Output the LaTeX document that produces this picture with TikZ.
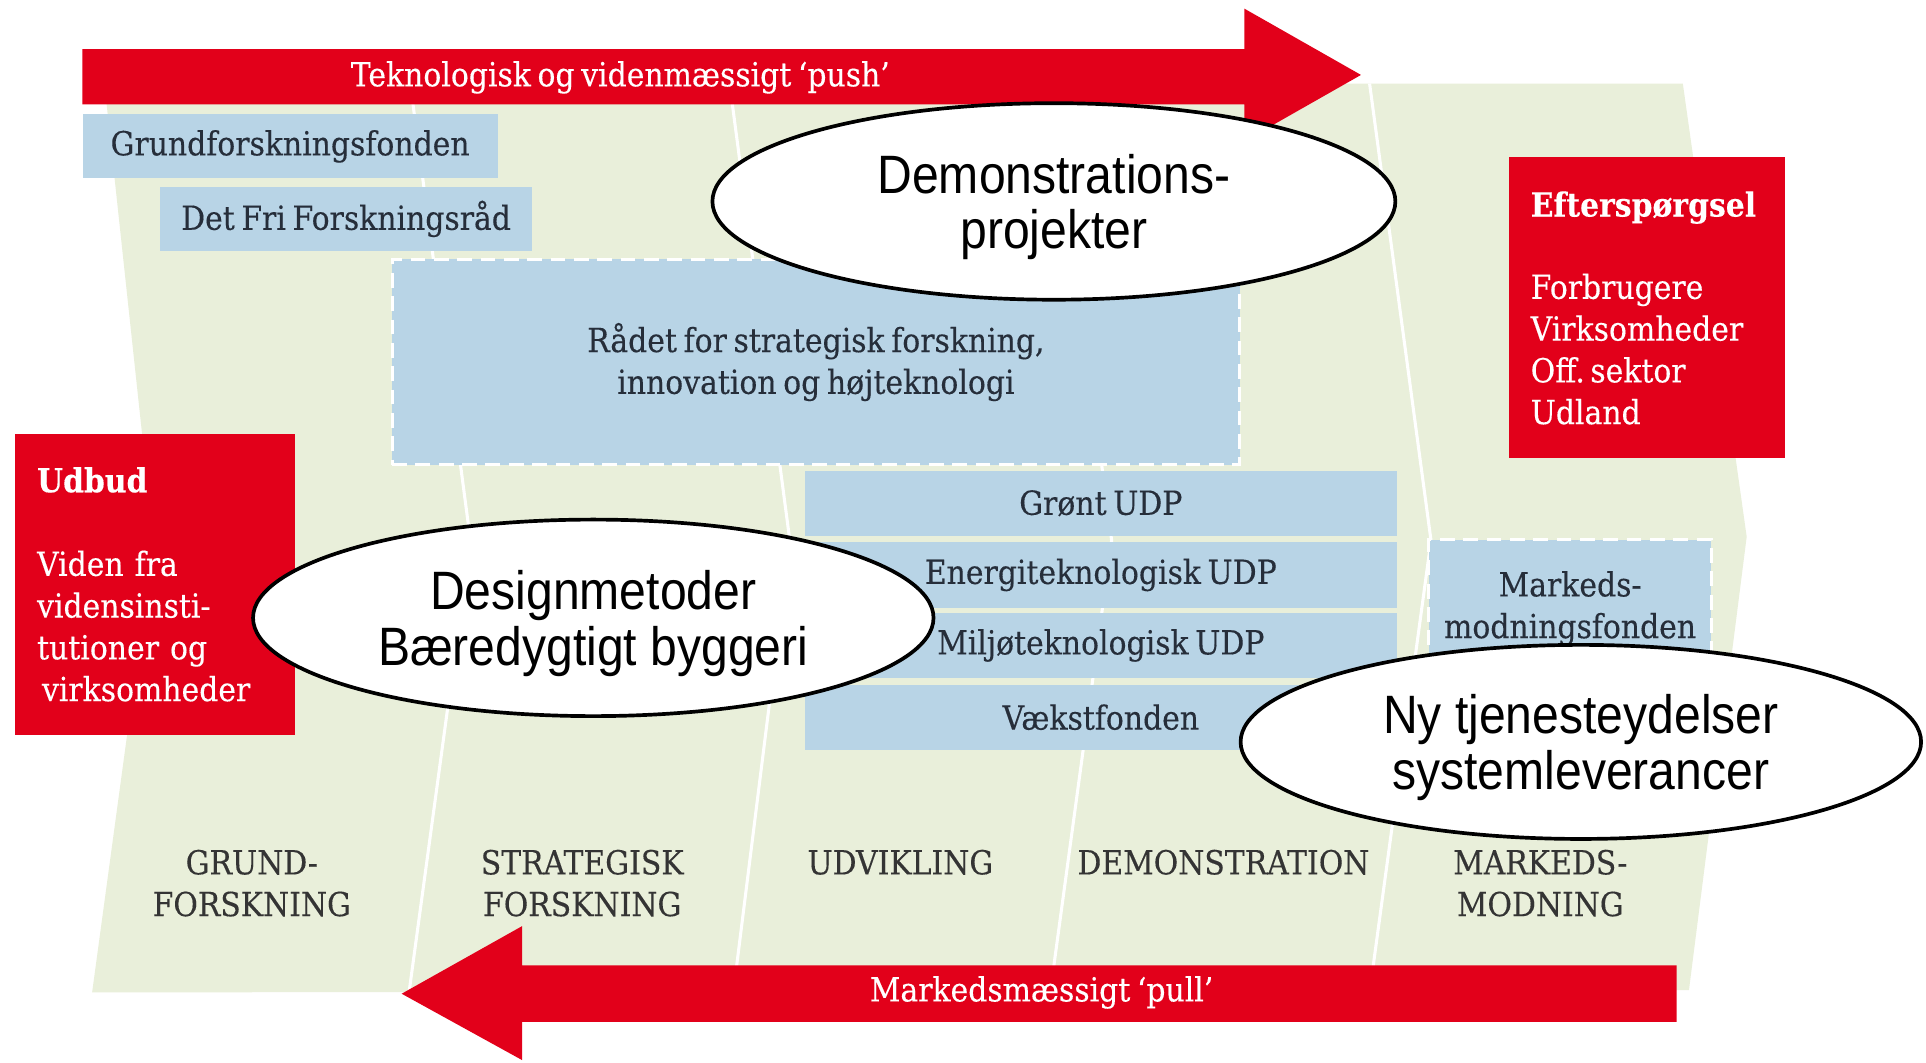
\documentclass[tikz,border=0pt]{standalone}
\usepackage{fontspec}
\usepackage{tikz}
\usetikzlibrary{shapes, positioning}
\newfontfamily\slabfont[FakeStretch=0.9, WordSpace=0.7, FakeBold=0.25]{DejaVu Serif}
\newfontfamily\ovalfont[FakeStretch=0.89]{Liberation Sans}
\definecolor{pushred}{RGB}{226,0,26}
\definecolor{fundblue}{RGB}{184,212,230}
\definecolor{phasegreen}{RGB}{233,239,218}
\definecolor{fundtext}{RGB}{38,46,58}
\definecolor{phasetext}{RGB}{52,52,52}

\begin{document}
\begin{tikzpicture}[x=1pt, y=-1pt,
        fund/.style={fill=fundblue, text=fundtext, inner sep=0pt, font=\slabfont\fontsize{27}{34}\selectfont},
        fundline/.style={draw=white, line width=2.5pt, dash pattern=on 12pt off 7pt},
        redbox/.style={fill=pushred, text=white, anchor=north west, align=left, inner xsep=18pt, font=\slabfont\fontsize{27}{34}\selectfont},
        arrowtext/.style={text=white, font=\slabfont\fontsize{27}{30}\selectfont},
        phase/.style={text=phasetext, align=center, font=\slabfont\fontsize{27}{34}\selectfont},
        oval/.style={ellipse, draw=black, line width=3pt, fill=white, align=center, inner sep=0pt, text depth=-6pt, font=\ovalfont\fontsize{44}{45}\selectfont}]

        \useasboundingbox (0,0) rectangle (1568,865);
        \fill[white] (0,0) rectangle (1568,865);

        % Phase band
        \fill[phasegreen] (85,68) -- (1370,68) -- (1422,437) -- (1375,806) -- (75,808) -- (125,440) -- cycle;
        \foreach \xt/\xm/\xb in {334/383/333, 594/643/597, 856/905/855, 1115/1165/1115}
            \draw[white, line width=2.5pt] (\xt,68) -- (\xm,440) -- (\xb,808);

        % Push arrow
        \fill[pushred] (67,40) -- (1013,40) -- (1013,7) -- (1108,61) -- (1013,115) -- (1013,85) -- (67,85) -- cycle;
        \node[arrowtext] (push) at (505,63) {Teknologisk og videnmæssigt ‘push’};

        % Pull arrow
        \fill[pushred] (1365,786) -- (425,786) -- (425,754) -- (327,809) -- (425,863) -- (425,832) -- (1365,832) -- cycle;
        \node[arrowtext] (pull) at (848,808) {Markedsmæssigt ‘pull’};

        % Funds
        \node[fund, anchor=north west, minimum width=338pt, minimum height=52pt] (grund) at (67,93) {Grundforskningsfonden};
        \node[fund, anchor=north west, minimum width=303pt, minimum height=52pt] (dff) at (130,152) {Det Fri Forskningsråd};
        \node[fund, fundline, anchor=north west, minimum width=690pt, minimum height=167pt, align=center] (raadet) at (318,210) {Rådet for strategisk forskning,\\innovation og højteknologi};

        % Development and demonstration programmes
        \node[fund, anchor=north west, minimum width=482pt, minimum height=53pt] (groent) at (655,383) {Grønt UDP};
        \node[fund, minimum width=482pt, minimum height=53pt, below=5pt of groent] (energi) {Energiteknologisk UDP};
        \node[fund, minimum width=482pt, minimum height=53pt, below=4pt of energi] (miljoe) {Miljøteknologisk UDP};
        \node[fund, minimum width=482pt, minimum height=53pt, below=5pt of miljoe] (vaekst) {Vækstfonden};
        \node[fund, fundline, anchor=north west, minimum width=230pt, minimum height=112pt, align=center] (modning) at (1162,438) {Markeds-\\modningsfonden};

        % Supply and demand
        \node[redbox, text width=192pt, minimum height=245pt] (udbud) at (12,353) {\textbf{Udbud}\\[34pt]Viden fra\\vidensinsti-\\tutioner og\\\hspace*{4pt}virksomheder};
        \node[redbox, text width=189pt, minimum height=245pt] (efterspoergsel) at (1228,128) {\textbf{Efterspørgsel}\\[33pt]Forbrugere\\Virksomheder\\Off.\,sektor\\Udland};

        % Phases
        \node[phase] (grundforsk) at (205,719) {GRUND-\\FORSKNING};
        \node[phase] (stratforsk) at (474,719) {STRATEGISK\\FORSKNING};
        \node[phase] (udvikling) at (733,702) {UDVIKLING};
        \node[phase] (demonstration) at (996,702) {DEMONSTRATION};
        \node[phase] (markedsmodning) at (1254,719) {MARKEDS-\\MODNING};

        % Ellipses
        \node[oval, minimum width=556pt, minimum height=160pt] (demo) at (858,164) {Demonstrations-\\projekter};
        \node[oval, minimum width=554pt, minimum height=160pt] (design) at (483,503) {Designmetoder\\Bæredygtigt byggeri};
        \node[oval, minimum width=554pt, minimum height=158pt] (tjeneste) at (1287,604) {Ny tjenesteydelser\\systemleverancer};

    \end{tikzpicture}
\end{document}
